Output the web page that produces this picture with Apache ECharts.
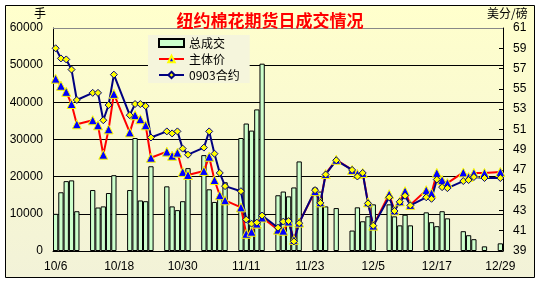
<!DOCTYPE html>
<html><head><meta charset="utf-8">
<script src="https://cdn.jsdelivr.net/npm/echarts@6/dist/echarts.min.js"></script>
<style>html,body{margin:0;padding:0;background:#fff}#c{width:540px;height:283px}</style>
</head><body><div id="c"></div>
<script>
// calendar days 10/6 .. 12/29 (weekends/holidays have no data)
const dates = ["10/6","10/7","10/8","10/9","10/10","10/11","10/12","10/13","10/14","10/15","10/16","10/17","10/18","10/19",
"10/20","10/21","10/22","10/23","10/24","10/25","10/26","10/27","10/28","10/29","10/30","10/31","11/1","11/2",
"11/3","11/4","11/5","11/6","11/7","11/8","11/9","11/10","11/11","11/12","11/13","11/14","11/15","11/16",
"11/17","11/18","11/19","11/20","11/21","11/22","11/23","11/24","11/25","11/26","11/27","11/28","11/29","11/30",
"12/1","12/2","12/3","12/4","12/5","12/6","12/7","12/8","12/9","12/10","12/11","12/12","12/13","12/14",
"12/15","12/16","12/17","12/18","12/19","12/20","12/21","12/22","12/23","12/24","12/25","12/26","12/27","12/28","12/29"];
// 总成交 (手)
const volume = [10000,15800,18800,19000,10700,null,null,16400,11700,12000,15600,20400,null,null,
16400,30400,13600,13400,22800,null,null,17400,12000,11000,13400,22300,null,null,
25800,16600,13200,14800,18500,null,null,30400,34300,32400,38100,50400,null,null,
15000,16000,14700,17100,24100,null,null,17100,16000,12000,null,11550,null,null,
5500,11750,8000,9350,12550,null,null,12550,9320,6900,9760,6900,null,null,
10400,7750,6680,10700,8790,null,null,5330,4250,3180,null,1250,null,null,2060];
// 主体价 (美分/磅)
const mainPrice = [56.0,55.3,54.7,53.5,51.5,null,null,51.9,51.4,48.5,51.0,54.5,null,null,
50.7,52.4,52.0,51.4,48.2,null,null,48.8,48.4,48.7,46.8,46.5,null,null,
46.9,48.3,46.0,44.5,44.0,null,null,43.3,40.7,40.9,41.7,42.3,null,null,
41.1,41.0,41.9,40.1,41.8,null,null,44.9,43.8,46.6,null,48.0,null,null,
47.0,46.6,46.7,43.8,41.5,null,null,44.6,43.0,43.9,44.9,43.55,null,null,
45.0,44.7,46.7,46.0,45.7,null,null,46.75,46.3,46.7,null,46.7,null,null,46.8];
// 0903合约 (美分/磅)
const contract0903 = [59.0,58.0,57.9,56.9,53.9,null,null,54.6,54.6,51.9,53.4,56.4,null,null,
52.4,53.5,53.5,53.3,50.2,null,null,50.8,50.6,50.8,49.1,48.5,null,null,
49.2,50.8,48.6,46.7,45.4,null,null,44.9,42.1,41.7,41.8,42.5,null,null,
41.3,41.9,41.95,39.95,41.75,null,null,45.0,43.75,46.55,null,47.95,null,null,
47.0,46.35,46.7,43.7,41.5,null,null,44.3,42.95,43.85,44.45,43.5,null,null,
44.3,44.15,46.05,45.3,45.2,null,null,45.9,46.0,46.3,null,46.2,null,null,46.2];
const leftTicks = {min:0, max:60000, interval:10000};
const rightTicks = {min:39, max:61, interval:2};

const chart = echarts.init(document.getElementById('c'), null, {renderer:'canvas'});
const font = 'Liberation Sans';
chart.setOption({
  animation:false,
  graphic:[
    {type:'rect', z:-10, silent:true, shape:{x:5.5,y:5.5,width:529,height:272},
     style:{fill:new echarts.graphic.LinearGradient(0,0,0,1,[{offset:0,color:'#ffffcc'},{offset:1,color:'#f2f2d8'}]),
            stroke:'#000', lineWidth:1}},
    {type:'text', left:34, top:7, style:{text:'手', fill:'#000', font:'12px "Noto Sans CJK SC"'}},
    {type:'text', left:487, top:7, style:{text:'美分/磅', fill:'#000', font:'12px "Noto Sans CJK SC"'}},
    {type:'line', z:5, shape:{x1:53,y1:28.5,x2:503,y2:28.5}, style:{stroke:'#888',lineWidth:1}}
  ],
  title:{text:'纽约棉花期货日成交情况', left:'center', top:7,
    textStyle:{color:'#ff0000', fontSize:17, fontWeight:'bold', fontFamily:'Noto Sans CJK SC'}},
  legend:{left:148, top:35, orient:'vertical', itemWidth:25, itemHeight:8, itemGap:2,
    padding:[1,10,1,10], backgroundColor:'#f5f5dc',
    textStyle:{fontSize:12, fontFamily:'Noto Sans CJK SC', color:'#000', lineHeight:14},
    data:[{name:'总成交', icon:'rect'},{name:'主体价'},{name:'0903合约'}]},
  grid:{left:53, right:37, top:28, bottom:32, containLabel:false},
  xAxis:{type:'category', data:dates, boundaryGap:true,
    axisLine:{lineStyle:{color:'#000', width:1}}, axisTick:{show:false},
    axisLabel:{interval:11, color:'#000', fontSize:12, fontFamily:font, margin:10}},
  yAxis:[
    {type:'value', min:leftTicks.min, max:leftTicks.max, interval:leftTicks.interval,
     axisLine:{show:true, lineStyle:{color:'#000'}}, axisTick:{show:false},
     axisLabel:{color:'#000', fontSize:12, fontFamily:font, margin:10, formatter:function(v){return String(v);}},
     splitLine:{show:true, lineStyle:{color:['#000','#000','#000','#000','#000','#000','#888'], width:1}}},
    {type:'value', min:rightTicks.min, max:rightTicks.max, interval:rightTicks.interval, position:'right',
     axisLine:{show:true, lineStyle:{color:'#000'}},
     axisTick:{show:true, inside:true, length:4, lineStyle:{color:'#000'}},
     axisLabel:{color:'#000', fontSize:12, fontFamily:font, margin:10, formatter:function(v){return String(v);}},
     splitLine:{show:false}}
  ],
  series:[
    {name:'总成交', type:'bar', data:volume, yAxisIndex:0, barWidth:'100%',
     itemStyle:{color:'#ccffcc', borderColor:'#000', borderWidth:1}},
    {name:'主体价', type:'line', data:mainPrice, yAxisIndex:1, connectNulls:true,
     symbol:'triangle', symbolSize:9, showAllSymbol:true,
     lineStyle:{color:'#ff0000', width:2}, itemStyle:{color:'#0000ff', borderColor:'#ffff00', borderWidth:1}},
    {name:'0903合约', type:'line', data:contract0903, yAxisIndex:1, connectNulls:true,
     symbol:'diamond', symbolSize:7, showAllSymbol:true,
     lineStyle:{color:'#000080', width:2}, itemStyle:{color:'#ffff00', borderColor:'#000080', borderWidth:1}}
  ]
});
</script></body></html>
